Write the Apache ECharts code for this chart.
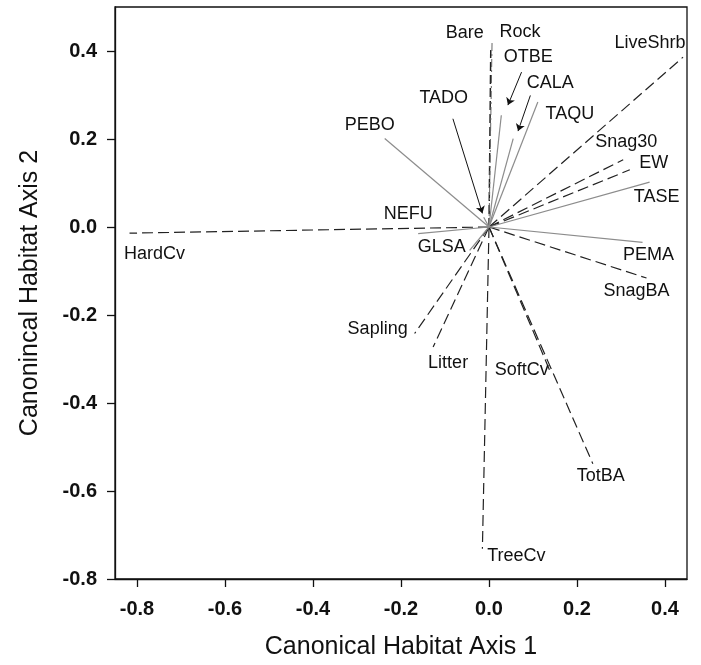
<!DOCTYPE html>
<html>
<head>
<meta charset="utf-8">
<script src="https://cdn.jsdelivr.net/npm/echarts@6/dist/echarts.min.js"></script>
<style>html,body{margin:0;padding:0;background:#fff}#c{width:701px;height:665px}</style>
</head>
<body>
<div id="c"></div>
<script>
// Habitat variables (dashed vectors)
const habitatNames = ['LiveShrb','Snag30','EW','SnagBA','TotBA','SoftCv','TreeCv','Litter','Sapling','HardCv','Bare','Rock'];
const habitatAxis1 = [0.441, 0.305, 0.320, 0.358, 0.236, 0.138, -0.015, -0.127, -0.169, -0.817, 0.004, 0.007];
const habitatAxis2 = [0.386, 0.153, 0.130, -0.116, -0.538, -0.326, -0.731, -0.273, -0.242, -0.014, 0.402, 0.423];
// Species (solid grey vectors)
const speciesNames = ['TASE','PEMA','GLSA','NEFU','PEBO','TADO','OTBE','CALA','TAQU'];
const speciesAxis1 = [0.365, 0.349, -0.044, -0.161, -0.237, -0.012, 0.028, 0.055, 0.111];
const speciesAxis2 = [0.102, -0.035, -0.053, -0.015, 0.201, 0.022, 0.254, 0.201, 0.284];
// Leader arrows for crowded labels
const leaderNames = ['OTBE','CALA','TADO'];
const leaderFrom = [[0.074, 0.352], [0.094, 0.299], [-0.082, 0.246]];
const leaderTo = [[0.043, 0.277], [0.066, 0.218], [-0.015, 0.031]];
// Tick labels
const xTicks = [-0.8, -0.6, -0.4, -0.2, 0.0, 0.2, 0.4];
const yTicks = [-0.8, -0.6, -0.4, -0.2, 0.0, 0.2, 0.4];

// label placement (pixel offsets relative to vector tip) - style only
const labelOffset = {
  LiveShrb:[-33,-14], Snag30:[3,-18], EW:[24,-7], SnagBA:[-10,13], TotBA:[8,12],
  SoftCv:[-28,0], TreeCv:[34,7], Litter:[15,16], Sapling:[-37,-4], HardCv:[25,21],
  Bare:[-26,-17], Rock:[28,-9],
  TASE:[7,15], PEMA:[6,13], GLSA:[-28,-3], NEFU:[-10,-20], PEBO:[-15,-14],
  TADO:[-40,-119], OTBE:[27,-58], CALA:[37,-56], TAQU:[32,12]
};

const series = [];
habitatNames.forEach((n, i) => {
  let ls = {color:'#222', width:1.2, type:[11,5]};
  if (n === 'Rock') ls = {color:'#666', width:1, type:[8,3,2,3]};
  if (n === 'Bare') ls = {color:'#222', width:1.5, type:[9,4]};
  series.push({type:'line', name:n, data:[[0,0],[habitatAxis1[i], habitatAxis2[i]]],
    symbol:'none', lineStyle:ls, silent:true, z:2, animation:false});
});
speciesNames.forEach((n, i) => {
  series.push({type:'line', name:n, data:[[0,0],[speciesAxis1[i], speciesAxis2[i]]],
    symbol:'none', lineStyle:{color:'#8c8c8c', width:1.2, type:'solid'}, silent:true, z:3, animation:false});
});
series.push({
  type:'lines', coordinateSystem:'cartesian2d', animation:false, z:4,
  symbol:['none','arrow'], symbolSize:[0,7],
  lineStyle:{color:'#111', width:1, opacity:1},
  data: leaderNames.map((n, i) => ({coords:[leaderFrom[i], leaderTo[i]]}))
});
const labelData = [];
habitatNames.forEach((n, i) => labelData.push({name:n, value:[habitatAxis1[i], habitatAxis2[i]]}));
speciesNames.forEach((n, i) => labelData.push({name:n, value:[speciesAxis1[i], speciesAxis2[i]]}));
series.push({
  type:'scatter', symbolSize:0, animation:false, z:5, silent:true,
  itemStyle:{color:'#fff', opacity:0},
  data: labelData.map(d => ({
    name:d.name, value:d.value,
    label:{show:true, position:'inside', offset:labelOffset[d.name], formatter:d.name,
      fontFamily:'Liberation Sans, Arial, sans-serif', fontSize:18, color:'#111',
      textBorderWidth:0, textBorderColor:'transparent', opacity:1}
  }))
});

const chart = echarts.init(document.getElementById('c'), null, {renderer:'canvas'});
const tickFmt = v => (Math.abs(v) < 1e-9 ? 0 : v).toFixed(1);
chart.setOption({
  animation:false,
  backgroundColor:'#fff',
  grid:{left:115, right:14, top:7, bottom:86, show:true, borderColor:'#111', borderWidth:1.3},
  xAxis:{
    type:'value', min:-0.85, max:0.45, position:'bottom',
    name:'Canonical Habitat Axis 1', nameLocation:'middle', nameGap:56,
    nameTextStyle:{fontFamily:'Liberation Sans, Arial, sans-serif', fontSize:25, color:'#111'},
    axisLine:{show:true, onZero:false, lineStyle:{color:'#111', width:1.3}},
    axisTick:{show:true, inside:false, length:8, customValues:xTicks, lineStyle:{color:'#111', width:1.3}},
    axisLabel:{customValues:xTicks, formatter:tickFmt, margin:20,
      fontFamily:'Liberation Sans, Arial, sans-serif', fontWeight:'bold', fontSize:20, color:'#111'},
    splitLine:{show:false}
  },
  yAxis:{
    type:'value', min:-0.8, max:0.5, position:'left',
    name:'Canonincal Habitat Axis 2', nameLocation:'middle', nameGap:72, nameRotate:90,
    nameTextStyle:{fontFamily:'Liberation Sans, Arial, sans-serif', fontSize:25, color:'#111'},
    axisLine:{show:true, onZero:false, lineStyle:{color:'#111', width:1.3}},
    axisTick:{show:true, inside:false, length:8, customValues:yTicks, lineStyle:{color:'#111', width:1.3}},
    axisLabel:{customValues:yTicks, formatter:tickFmt, margin:18,
      fontFamily:'Liberation Sans, Arial, sans-serif', fontWeight:'bold', fontSize:20, color:'#111'},
    splitLine:{show:false}
  },
  series: series
});
</script>
</body>
</html>
